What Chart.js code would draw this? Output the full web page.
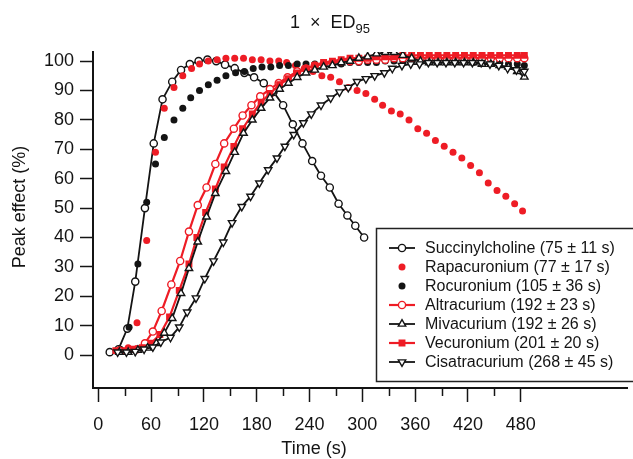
<!DOCTYPE html>
<html>
<head>
<meta charset="utf-8">
<title>1 × ED95</title>
<script src="https://cdn.jsdelivr.net/npm/chart.js@4.4.0/dist/chart.umd.min.js"></script>
<style>
  html, body { margin: 0; padding: 0; background: #fff; }
  #wrap { width: 633px; height: 459px; }
</style>
</head>
<body>
<div id="wrap"><canvas id="edChart" width="633" height="459"></canvas></div>
<script>
// time (s) and peak effect (%)
const succT = [13, 23, 33, 42, 53, 63, 73, 84, 94, 104, 114, 124, 134, 144, 155, 166, 177, 188, 199, 210, 221, 232, 243, 253, 263, 273, 283, 292, 302];
const succY = [1, 2, 9, 25, 50, 72, 87, 93, 97, 99, 100, 100.5, 100, 98.8, 97.6, 96, 94.5, 92.5, 89.5, 85, 78.5, 72, 66, 61, 57, 51.5, 47.5, 44, 40];

const rapaT = [34, 44, 55, 65, 75, 86, 96, 106, 115, 125, 135, 145, 155, 165, 175, 185, 195, 205, 214, 224, 234, 244, 254, 264, 274, 284, 294, 304, 314, 323, 333, 343, 353, 363, 373, 383, 393, 403, 413, 423, 433, 443, 453, 463, 473, 482];
const rapaY = [2.5, 11, 39, 69, 84, 91, 95, 97.5, 99, 100, 100.5, 101, 101, 101, 100.5, 100.5, 100, 100, 99.5, 98.5, 97.5, 96.5, 95, 94.5, 93, 91, 90, 89, 87, 85, 83, 82, 80, 77, 75.5, 73, 71, 69, 67, 64.5, 62, 58.5, 56, 54, 51.5, 49];

const rocuT = [25, 35, 45, 55, 65, 75, 86, 96, 105, 115, 125, 135, 145, 156, 166, 176, 186, 196, 206, 216, 226, 236, 246, 256, 266, 276, 286, 296, 306, 316, 326, 336, 346, 356, 366, 376, 386, 396, 406, 416, 426, 436, 446, 456, 466, 476, 484];
const rocuY = [2, 9.5, 31, 52, 65, 74, 80, 84, 87.5, 90, 92, 93.5, 95, 96, 96.5, 97.5, 98, 98, 98.5, 98.5, 99, 99, 99, 99, 99, 99, 99.5, 99.5, 99.5, 99.5, 100, 100, 100, 100, 100, 100, 100, 100, 100, 100, 99.5, 99.5, 99.5, 99.5, 99, 99, 98.5];

const altrT = [24, 34, 44, 53, 62, 72, 83, 93, 103, 113, 123, 133, 143, 154, 164, 174, 184, 195, 205, 215, 226, 236, 246, 256, 266, 276, 286, 296, 306, 316, 326, 336, 346, 356, 366, 376, 386, 396, 406, 416, 426, 436, 446, 456, 466, 476, 484];
const altrY = [1.5, 1.5, 2, 4, 8, 15, 24, 32, 42, 51, 57, 65, 72, 77, 81.5, 85, 88, 90.5, 92.5, 94.5, 96.5, 97.5, 98.5, 99, 99.5, 100, 100, 100, 100.5, 100.5, 100.5, 101, 101, 101, 101, 101, 101, 101, 101, 101, 101, 101, 101, 101, 101, 101, 101];

const mivaT = [24, 34, 45, 56, 66, 75, 84, 94, 103, 113, 123, 133, 145, 155, 165, 175, 185, 195, 206, 216, 226, 236, 246, 256, 266, 276, 286, 296, 306, 316, 326, 336, 346, 356, 366, 376, 386, 396, 406, 416, 426, 436, 446, 456, 466, 476, 484];
const mivaY = [1, 1, 1.7, 2.4, 4, 7.5, 12.5, 21, 29.5, 38.5, 47, 55, 62.5, 69, 75.5, 80, 84, 87.5, 90.5, 92.5, 94.5, 96, 97, 98, 98.5, 99.5, 100, 101, 101.5, 102.5, 103, 103, 102, 101, 100, 99.5, 99.5, 99.5, 99.5, 99.5, 99.5, 99, 99, 98.5, 98, 96.5, 94.6];

const vecuT = [20, 30, 40, 50, 60, 70, 81, 92, 103, 112, 122, 133, 143, 154, 164, 175, 185, 195, 206, 216, 226, 236, 246, 256, 266, 276, 286, 296, 306, 316, 326, 336, 346, 356, 366, 376, 386, 396, 406, 416, 426, 436, 446, 456, 466, 476, 484];
const vecuY = [1.5, 1.5, 2, 2.5, 4, 7, 13, 22, 31, 40, 48.5, 56.5, 64, 71, 77, 82, 86, 89, 92, 94, 96, 97.5, 98.5, 99.5, 100, 100.5, 101, 101, 101, 101.5, 101.5, 101.5, 102, 102, 102, 102, 102, 102, 102, 102, 102, 102, 102, 102, 102, 102, 102];

const cisaT = [22, 32, 42, 52, 62, 71, 82, 92, 101, 111, 121, 131, 142, 152, 163, 173, 183, 193, 203, 212, 222, 233, 242, 253, 264, 274, 284, 294, 304, 314, 325, 334, 345, 355, 365, 375, 385, 395, 405, 415, 425, 435, 445, 455, 465, 475, 484];
const cisaY = [1, 1, 1.2, 2, 2.7, 4.4, 6, 9.5, 14.6, 19.4, 26, 32, 38.4, 45, 50.5, 54, 58.5, 63, 67, 71, 75, 79, 82, 85, 87.4, 89.5, 91, 93, 94, 95, 96, 97.5, 98.5, 99, 99, 99.5, 99.5, 99.5, 99.5, 99.5, 99.5, 99.5, 99, 98.5, 97.5, 97, 96.5];

const seriesLabels = [
  'Succinylcholine (75 \u00b1 11 s)',
  'Rapacuronium (77 \u00b1 17 s)',
  'Rocuronium (105 \u00b1 36 s)',
  'Altracurium (192 \u00b1 23 s)',
  'Mivacurium (192 \u00b1 26 s)',
  'Vecuronium (201 \u00b1 20 s)',
  'Cisatracurium (268 \u00b1 45 s)'
];
const xTicks = [0, 30, 60, 90, 120, 150, 180, 210, 240, 270, 300, 330, 360, 390, 420, 450, 480];
const yTicks = [0, 10, 20, 30, 40, 50, 60, 70, 80, 90, 100];

const RED = '#ee1c25';
const BLACK = '#141414';
const FONT = '"Liberation Sans", Arial, sans-serif';

const pts = (ts, ys) => ts.map((t, i) => ({ x: t, y: ys[i] }));

function series(label, ts, ys, o) {
  return Object.assign({
    label: label,
    data: pts(ts, ys),
    borderColor: BLACK,
    borderWidth: 1.8,
    backgroundColor: '#fff',
    pointBorderColor: BLACK,
    pointBackgroundColor: '#fff',
    pointBorderWidth: 1.4,
    pointRadius: 3.6,
    pointStyle: 'circle',
    pointRotation: 0,
    tension: 0,
    showLine: true
  }, o);
}

const datasets = [
  series(seriesLabels[6], cisaT, cisaY, { pointStyle: 'triangle', pointRotation: 180, pointRadius: 4.3 }),
  series(seriesLabels[4], mivaT, mivaY, { pointStyle: 'triangle', pointRadius: 4.3 }),
  series(seriesLabels[5], vecuT, vecuY, { borderColor: RED, borderWidth: 2.2, pointStyle: 'rect', pointRadius: 3.9,
    pointBorderColor: RED, pointBackgroundColor: RED }),
  series(seriesLabels[3], altrT, altrY, { borderColor: RED, borderWidth: 2.2, pointBorderColor: RED }),
  series(seriesLabels[2], rocuT, rocuY, { showLine: false, pointBackgroundColor: BLACK, pointRadius: 3.5, pointBorderWidth: 0 }),
  series(seriesLabels[1], rapaT, rapaY, { showLine: false, pointBackgroundColor: RED, pointBorderColor: RED, pointRadius: 3.5, pointBorderWidth: 0 }),
  series(seriesLabels[0], succT, succY, {})
];

// legend order follows the figure (top to bottom)
const legendOrder = [6, 5, 4, 3, 1, 2, 0];

const overlay = {
  id: 'overlay',
  afterDraw(chart) {
    const ctx = chart.ctx;
    const xs = chart.scales.x;
    ctx.save();

    // minor ticks on the time axis
    ctx.strokeStyle = BLACK;
    ctx.lineWidth = 1.5;
    xTicks.forEach(v => {
      if (v % 60 === 0) return;
      const px = Math.round(xs.getPixelForValue(v)) + 0.5;
      ctx.beginPath();
      ctx.moveTo(px, xs.top);
      ctx.lineTo(px, xs.top + 8);
      ctx.stroke();
    });

    // title with subscript
    ctx.fillStyle = BLACK;
    ctx.textBaseline = 'alphabetic';
    ctx.textAlign = 'left';
    const main = '1  \u00d7  ED';
    ctx.font = '18px ' + FONT;
    const wMain = ctx.measureText(main).width;
    ctx.font = '13px ' + FONT;
    const wSub = ctx.measureText('95').width;
    const tx = 330 - (wMain + wSub) / 2;
    ctx.font = '18px ' + FONT;
    ctx.fillText(main, tx, 28);
    ctx.font = '13px ' + FONT;
    ctx.fillText('95', tx + wMain, 33);

    // axis titles
    ctx.font = '18px ' + FONT;
    ctx.textAlign = 'center';
    ctx.textBaseline = 'middle';
    ctx.fillText('Time (s)', 314, 449);
    ctx.save();
    ctx.translate(20, 207);
    ctx.rotate(-Math.PI / 2);
    ctx.fillText('Peak effect (%)', 0, 0);
    ctx.restore();

    // legend box
    ctx.lineWidth = 1.5;
    ctx.strokeStyle = '#222';
    ctx.strokeRect(376.5, 228.5, 262, 153);
    ctx.font = '16px ' + FONT;
    ctx.textAlign = 'left';
    legendOrder.forEach((di, row) => {
      const ds = chart.data.datasets[di];
      const y = 248 + row * 19;
      if (ds.showLine) {
        ctx.strokeStyle = ds.borderColor;
        ctx.lineWidth = ds.borderWidth;
        ctx.beginPath();
        ctx.moveTo(389, y);
        ctx.lineTo(415, y);
        ctx.stroke();
      }
      ctx.fillStyle = ds.pointBackgroundColor;
      ctx.strokeStyle = ds.pointBorderColor;
      ctx.lineWidth = ds.pointBorderWidth;
      Chart.helpers.drawPoint(ctx, {
        pointStyle: ds.pointStyle,
        rotation: ds.pointRotation,
        radius: ds.pointRadius,
        borderWidth: ds.pointBorderWidth
      }, 402, y);
      ctx.fillStyle = BLACK;
      ctx.fillText(ds.label, 425, y + 1);
    });
    ctx.restore();
  }
};

new Chart(document.getElementById('edChart'), {
  type: 'line',
  data: { datasets: datasets },
  plugins: [overlay],
  options: {
    responsive: false,
    animation: false,
    layout: { padding: { top: 52, left: 0, right: 0, bottom: 0 } },
    plugins: {
      legend: { display: false },
      title: { display: false },
      tooltip: { enabled: false }
    },
    scales: {
      x: {
        type: 'linear',
        min: -6,
        max: 601,
        afterFit: s => { s.height = 71; },
        afterBuildTicks: s => { s.ticks = xTicks.map(v => ({ value: v })); },
        border: { display: true, color: BLACK, width: 2 },
        grid: {
          drawOnChartArea: false,
          drawTicks: true,
          tickLength: 14,
          tickWidth: 1.5,
          tickColor: c => (c.tick && c.tick.value % 60 === 0) ? BLACK : 'rgba(0,0,0,0)'
        },
        ticks: {
          autoSkip: false,
          maxRotation: 0,
          padding: 12,
          color: BLACK,
          font: { family: FONT, size: 18 },
          callback: v => (v % 60 === 0 ? String(v) : '')
        }
      },
      y: {
        min: -11.2,
        max: 103.1,
        afterFit: s => { s.width = 93; },
        afterBuildTicks: s => { s.ticks = yTicks.map(v => ({ value: v })); },
        border: { display: true, color: BLACK, width: 2 },
        grid: {
          drawOnChartArea: false,
          drawTicks: true,
          tickLength: 13,
          tickWidth: 1.5,
          tickColor: BLACK
        },
        ticks: {
          padding: 6,
          color: BLACK,
          font: { family: FONT, size: 18 }
        }
      }
    }
  }
});
</script>
</body>
</html>
